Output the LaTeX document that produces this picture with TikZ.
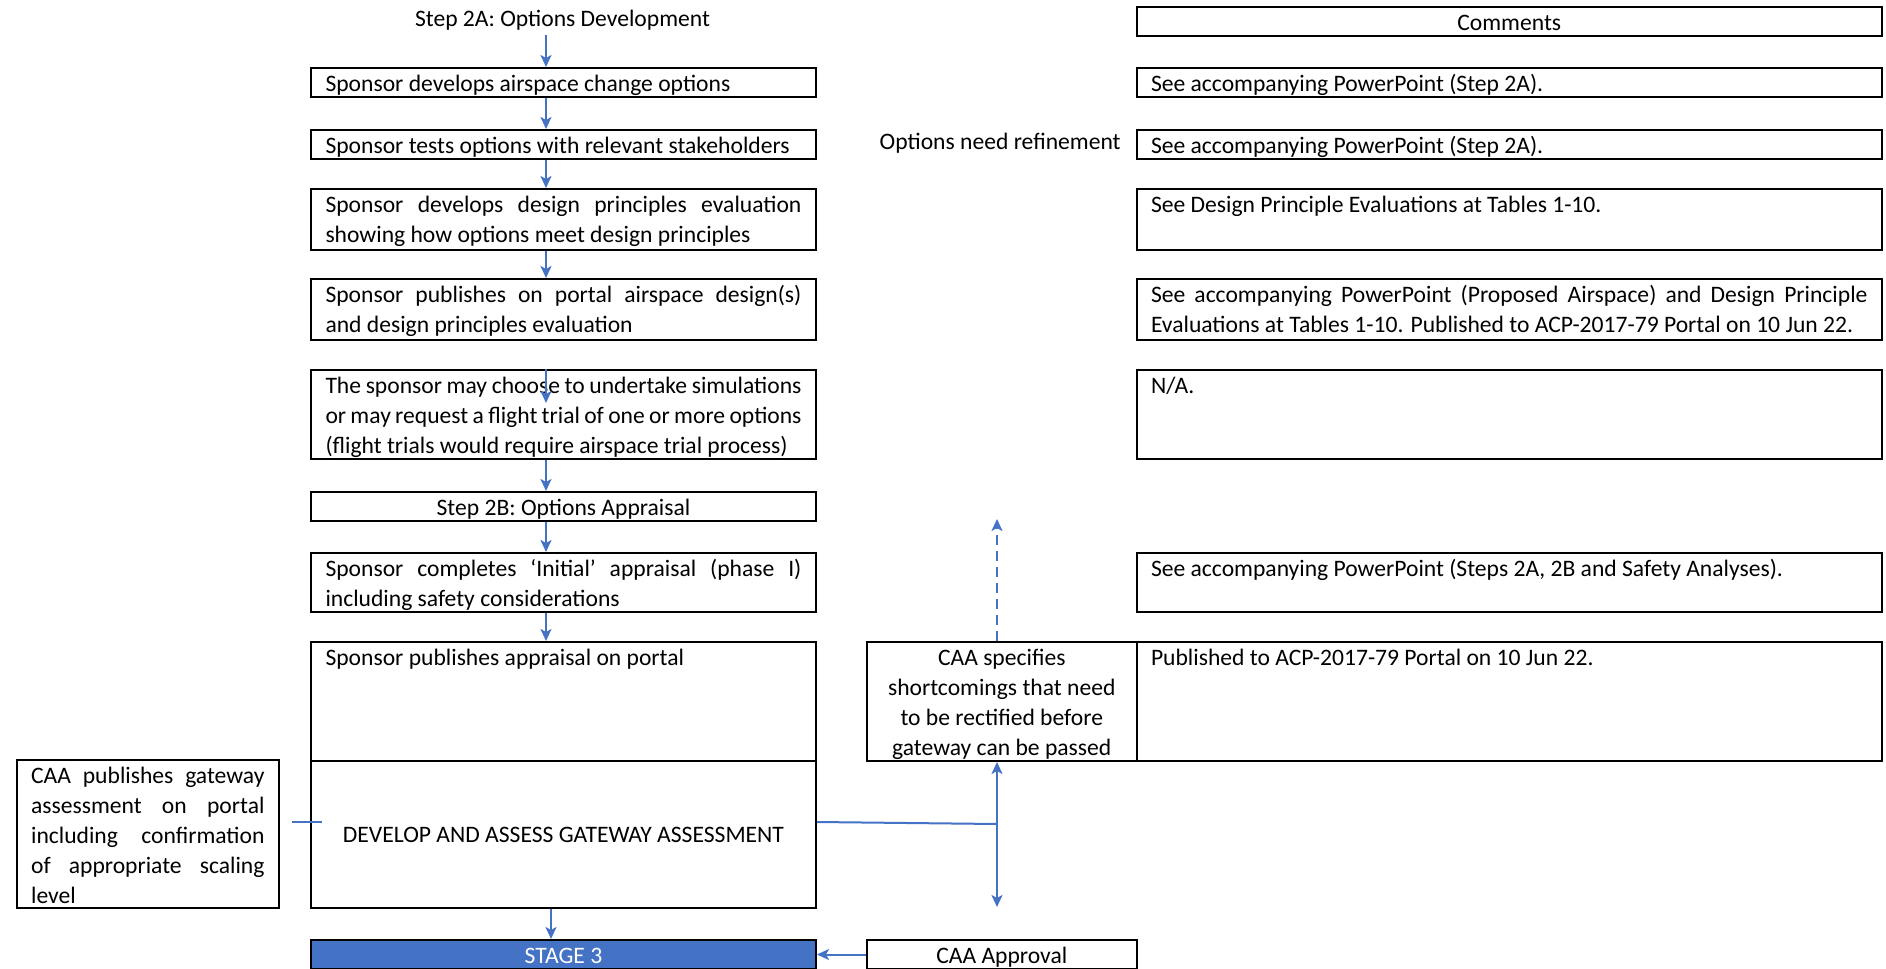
\documentclass[tikz,border=0pt]{standalone}
\usepackage{fontspec}
\setmainfont{Carlito}
\usetikzlibrary{arrows.meta}
\definecolor{flowblue}{HTML}{4472C4}
\hyphenpenalty=10000
\hbadness=10000
\begin{document}
\begin{tikzpicture}[x=0.5pt, y=-0.5pt,
    frame/.style={draw, line width=1pt, anchor=north west, inner xsep=7.25pt, inner ysep=2pt, font=\fontsize{11.8}{15}\selectfont},
    box/.style={frame, text height=9.6pt, text depth=#1, align=justify},
    box/.default=0.9pt,
    head/.style={align=flush center},
    lcol/.style={text width=238pt},
    ccol/.style={text width=358.25pt},
    arr/.style={flowblue, line width=1pt, -{Stealth[length=6pt, width=5.5pt, inset=1.5pt]}},
    link/.style={flowblue, line width=1pt}]
  \useasboundingbox (0,0) rectangle (1886,969);
  \coordinate (ax) at (546,0);
  \node[font=\fontsize{11.8}{15}\selectfont, inner sep=2pt] (s2a) at (562.5,20.5) {Step 2A: Options Development};
  \node[box, lcol] (dev) at (310,67) {Sponsor develops airspace change options};
  \node[box, lcol] (tst) at (310,129) {Sponsor tests options with relevant stakeholders};
  \node[box=16.9pt, lcol] (dp) at (310,188) {Sponsor develops design principles evaluation\linebreak showing how options meet design principles};
  \node[box=16.9pt, lcol] (pub) at (310,278) {Sponsor publishes on portal airspace design(s)\linebreak and design principles evaluation};
  \node[box=30.9pt, lcol] (sim) at (310,369) {The sponsor may choose to undertake simulations\linebreak or may request a flight trial of one or more options\linebreak (flight trials would require airspace trial process)};
  \node[box, lcol, head] (s2b) at (310,491) {Step 2B: Options Appraisal};
  \node[box=15.9pt, lcol] (ini) at (310,552) {Sponsor completes ‘Initial’ appraisal (phase I)\linebreak including safety considerations};
  \node[box=45.9pt, lcol] (app) at (310,641) {Sponsor publishes appraisal on portal};
  \node[frame, lcol, head, minimum height=73.5pt] (gate) at (310,760) {DEVELOP AND ASSESS GATEWAY ASSESSMENT};
  \node[box, lcol, head, fill=flowblue, text=white] (stage) at (310,939) {STAGE 3};
  \node[box=60.4pt, text width=116.7pt] (caapub) at (15.6,759) {CAA publishes gateway\linebreak assessment on portal\linebreak including confirmation\linebreak of appropriate scaling\linebreak level};
  \node[box=45.9pt, text width=120.25pt, head] (spec) at (866,641) {CAA specifies\\shortcomings that need\\to be rectified before\\gateway can be passed};
  \node[box, text width=120.25pt, head] (ok) at (866,939) {CAA Approval};
  \node[font=\fontsize{11.8}{15}\selectfont, anchor=east, inner sep=0pt] (refine) at (1121,143) {Options need refinement};
  \node[box, ccol, head] (com) at (1135.5,6) {Comments};
  \node[box, ccol] (c1) at (1135.5,67) {See accompanying PowerPoint (Step 2A).};
  \node[box, ccol] (c2) at (1135.5,129) {See accompanying PowerPoint (Step 2A).};
  \node[box=16.9pt, ccol] (c3) at (1135.5,188) {See Design Principle Evaluations at Tables 1-10.};
  \node[box=16.9pt, ccol] (c4) at (1135.5,278) {See accompanying PowerPoint (Proposed Airspace) and Design Principle\linebreak Evaluations at Tables 1-10. Published to ACP-2017-79 Portal on 10 Jun 22.};
  \node[box=30.9pt, ccol] (c5) at (1135.5,369) {N/A.};
  \node[box=15.9pt, ccol] (c7) at (1135.5,552) {See accompanying PowerPoint (Steps 2A, 2B and Safety Analyses).};
  \node[box=45.9pt, ccol] (c8) at (1135.5,641) {Published to ACP-2017-79 Portal on 10 Jun 22.};
  \draw[arr] (s2a.south -| ax) -- (dev.north -| ax);
  \foreach \a/\b in {dev/tst, tst/dp, dp/pub, sim/s2b, s2b/ini, ini/app}
    \draw[arr] (\a.south -| ax) -- (\b.north -| ax);
  \coordinate (simtip) at (546,403);
  \draw[arr] (sim.north -| ax) -- (simtip);
  \coordinate (sx) at (551,0);
  \draw[arr] (gate.south -| sx) -- (stage.north -| sx);
  \draw[arr] (ok.west) -- (stage.east);
  \coordinate (gy) at (0,822);
  \coordinate (junc) at (997,824);
  \coordinate (down) at (997,907);
  \coordinate (up) at (997,519);
  \draw[link] (gate.east |- gy) -- (junc);
  \draw[arr] (junc) -- (junc |- spec.south);
  \draw[arr] (junc) -- (down);
  \draw[arr, dash pattern=on 5pt off 3pt] (spec.north -| junc) -- (up);
  \draw[link] (292,822) -- (322,822);
\end{tikzpicture}
\end{document}
